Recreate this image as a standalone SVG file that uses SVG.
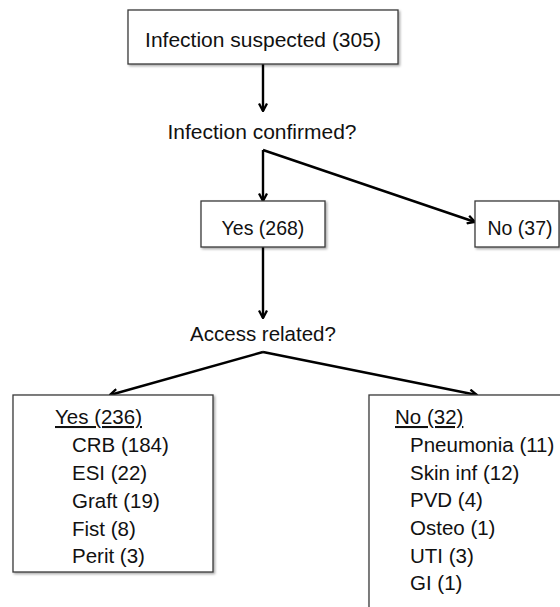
<svg xmlns="http://www.w3.org/2000/svg" width="560" height="607" viewBox="0 0 560 607">
<style>
.box{fill:#fff;stroke:#3a3a3a;stroke-width:1.3;filter:url(#sh)}
.t{font-family:"Liberation Sans",Arial,sans-serif;font-size:20.5px;fill:#111}
.big{font-size:21px}
.sm{font-size:19.5px}
.m{text-anchor:middle}
.u{text-decoration:underline}
.c{fill:none;stroke:#000;stroke-width:2.4;marker-end:url(#ah)}
</style>
<defs>
<filter id="sh" x="-10%" y="-10%" width="130%" height="130%">
<feDropShadow dx="1.5" dy="1.5" stdDeviation="1" flood-color="#000" flood-opacity="0.35"/>
</filter>
<marker id="ah" viewBox="0 0 10 10" refX="9" refY="5" markerWidth="10" markerHeight="10" markerUnits="userSpaceOnUse" orient="auto">
<path d="M1.5,1 L9,5 L1.5,9" fill="none" stroke="#000" stroke-width="2.3"/>
</marker>
</defs>
<rect width="560" height="607" fill="#fff"/>
<g id="connectors">
<path class="c" d="M263,64 L263,111"/>
<path class="c" d="M263,150 L263,201"/>
<path class="c" d="M263,150 L475,222"/>
<path class="c" d="M263,247 L263,318"/>
<path class="c" d="M263,352 L110,395"/>
<path class="c" d="M263,352 L477,395"/>
</g>
<g id="suspected">
<rect class="box" x="128" y="10" width="270" height="54"/>
<text class="t big m" x="263" y="47">Infection suspected (305)</text>
</g>
<g id="confirmed">
<text class="t big m" x="262" y="139">Infection confirmed?</text>
</g>
<g id="yes268">
<rect class="box" x="201" y="201" width="124" height="46"/>
<text class="t sm m" x="263" y="235">Yes (268)</text>
</g>
<g id="no37">
<rect class="box" x="475" y="201" width="84" height="46"/>
<text class="t sm m" x="520" y="235">No (37)</text>
</g>
<g id="access">
<text class="t m" x="263" y="341">Access related?</text>
</g>
<g id="yes236">
<rect class="box" x="13" y="395" width="200" height="177"/>
<text class="t u" x="55" y="424">Yes (236)</text>
<text class="t" x="72" y="452">CRB (184)</text>
<text class="t" x="72" y="480">ESI (22)</text>
<text class="t" x="72" y="508">Graft (19)</text>
<text class="t" x="72" y="535.5">Fist (8)</text>
<text class="t" x="72" y="563">Perit (3)</text>
</g>
<g id="no32">
<rect class="box" x="369" y="395" width="220" height="240"/>
<text class="t u" x="395" y="424">No (32)</text>
<text class="t" x="410" y="452">Pneumonia (11)</text>
<text class="t" x="410" y="479.5">Skin inf (12)</text>
<text class="t" x="410" y="507">PVD (4)</text>
<text class="t" x="410" y="535">Osteo (1)</text>
<text class="t" x="410" y="562.5">UTI (3)</text>
<text class="t" x="410" y="590">GI (1)</text>
</g>
</svg>
